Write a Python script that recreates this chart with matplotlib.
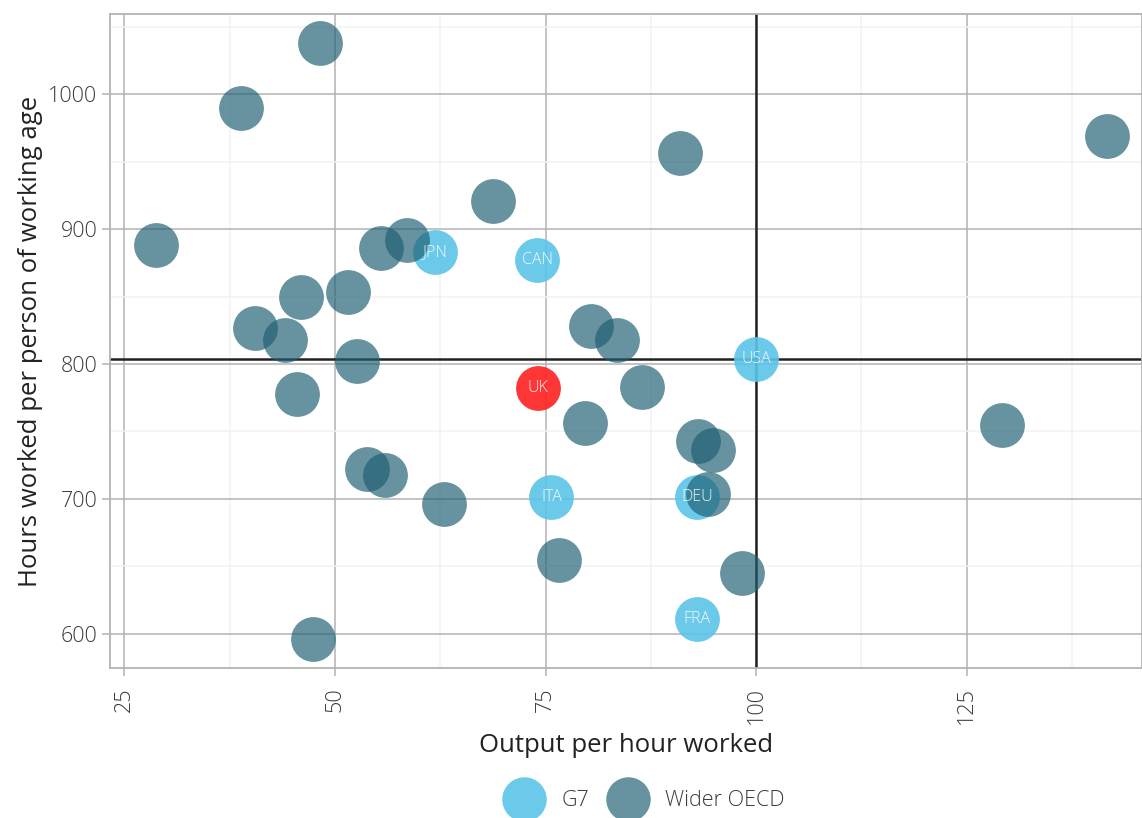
import matplotlib
matplotlib.use("Agg")
import matplotlib.pyplot as plt
from matplotlib.lines import Line2D

plt.rcParams['font.family'] = ['Open Sans', 'DejaVu Sans']
plt.rcParams['font.weight'] = 'light'

# G7 countries
g7_names = ['JPN', 'CAN', 'USA', 'ITA', 'DEU', 'FRA']
g7_x = [61.9, 74.0, 100.0, 75.7, 93.0, 93.0]
g7_y = [883, 877, 803.7, 701.5, 701.5, 611]

# UK highlighted
uk_x = [74.1]
uk_y = [782]

# wider OECD
oecd_x = [48.2, 38.9, 28.8, 68.8, 91.0, 141.6, 58.5, 55.5, 51.6, 46.0, 40.5, 44.1,
          52.6, 45.5, 80.4, 83.5, 86.4, 79.7, 93.1, 94.9, 94.3, 53.8, 56.0, 63.0,
          76.6, 98.3, 47.4, 129.2]
oecd_y = [1038, 990, 888, 921, 956, 969, 892, 886, 853, 850, 827, 818,
          802, 778, 828, 818, 783, 756, 743, 736, 704, 722, 718, 696,
          655, 645, 596, 755]

ref_x = 100
ref_y = 803.7

col_g7 = '#5BC4E8'
col_oecd = '#1F5F73'
col_uk = '#FF2020'
grid_col = '#B3B3B3'
txt_col = '#3A3A3A'

fig = plt.figure(figsize=(11.42, 8.18), dpi=100)
ax = fig.add_axes([0.0963, 0.1834, 0.9037, 0.7995])

ax.set_xlim(23.3, 145.8)
ax.set_ylim(574.8, 1059.3)
ax.set_xticks([25, 50, 75, 100, 125])
ax.set_yticks([600, 700, 800, 900, 1000])
ax.set_xticks([37.5, 62.5, 87.5, 112.5, 137.5], minor=True)
ax.set_yticks([650, 750, 850, 950, 1050], minor=True)
ax.grid(which='major', color=grid_col, linewidth=1.1)
ax.grid(which='minor', color='#F2F2F2', linewidth=1.1)
ax.set_axisbelow(True)

for s in ['left', 'bottom', 'top', 'right']:
    ax.spines[s].set_color(grid_col)
    ax.spines[s].set_linewidth(1.3)
ax.tick_params(which='major', color=grid_col, length=6, width=1.1,
               labelsize=15.5, labelcolor=txt_col)
ax.tick_params(which='minor', length=0)
ax.tick_params(axis='x', labelrotation=90, pad=8)
ax.tick_params(axis='y', pad=3)

ax.axhline(ref_y, color='#222222', linewidth=1.8, zorder=1.5)
ax.axvline(ref_x, color='#222222', linewidth=1.8, zorder=1.5)

sz = 1040
ax.scatter(g7_x, g7_y, s=sz, color=col_g7, alpha=0.9, linewidths=0, zorder=2)
ax.scatter(uk_x, uk_y, s=sz, color=col_uk, alpha=0.9, linewidths=0, zorder=2)
ax.scatter(oecd_x, oecd_y, s=sz, color=col_oecd, alpha=0.68, linewidths=0, zorder=3)

for n, x, y in zip(g7_names + ['UK'], g7_x + uk_x, g7_y + uk_y):
    ax.text(x, y, n, color='white', fontsize=11.5, ha='center', va='center',
            alpha=0.9, zorder=4)

ax.set_xlabel('Output per hour worked', fontsize=18.5, color='#222222', labelpad=6)
ax.set_ylabel('Hours worked per person of working age', fontsize=18.5,
              color='#222222', labelpad=4)

handles = [Line2D([], [], marker='o', linestyle='', markersize=32, color=col_g7,
                  alpha=0.9, markeredgewidth=0, label='G7'),
           Line2D([], [], marker='o', linestyle='', markersize=32, color=col_oecd,
                  alpha=0.68, markeredgewidth=0, label='Wider OECD')]
leg = fig.legend(handles=handles, loc='center', bbox_to_anchor=(0.563, 0.021), ncol=2,
                 frameon=False, fontsize=15.5, handletextpad=0.7, columnspacing=0.75,
                 handlelength=2.1)
for t in leg.get_texts():
    t.set_color(txt_col)

fig.savefig('out.png', dpi=100)
